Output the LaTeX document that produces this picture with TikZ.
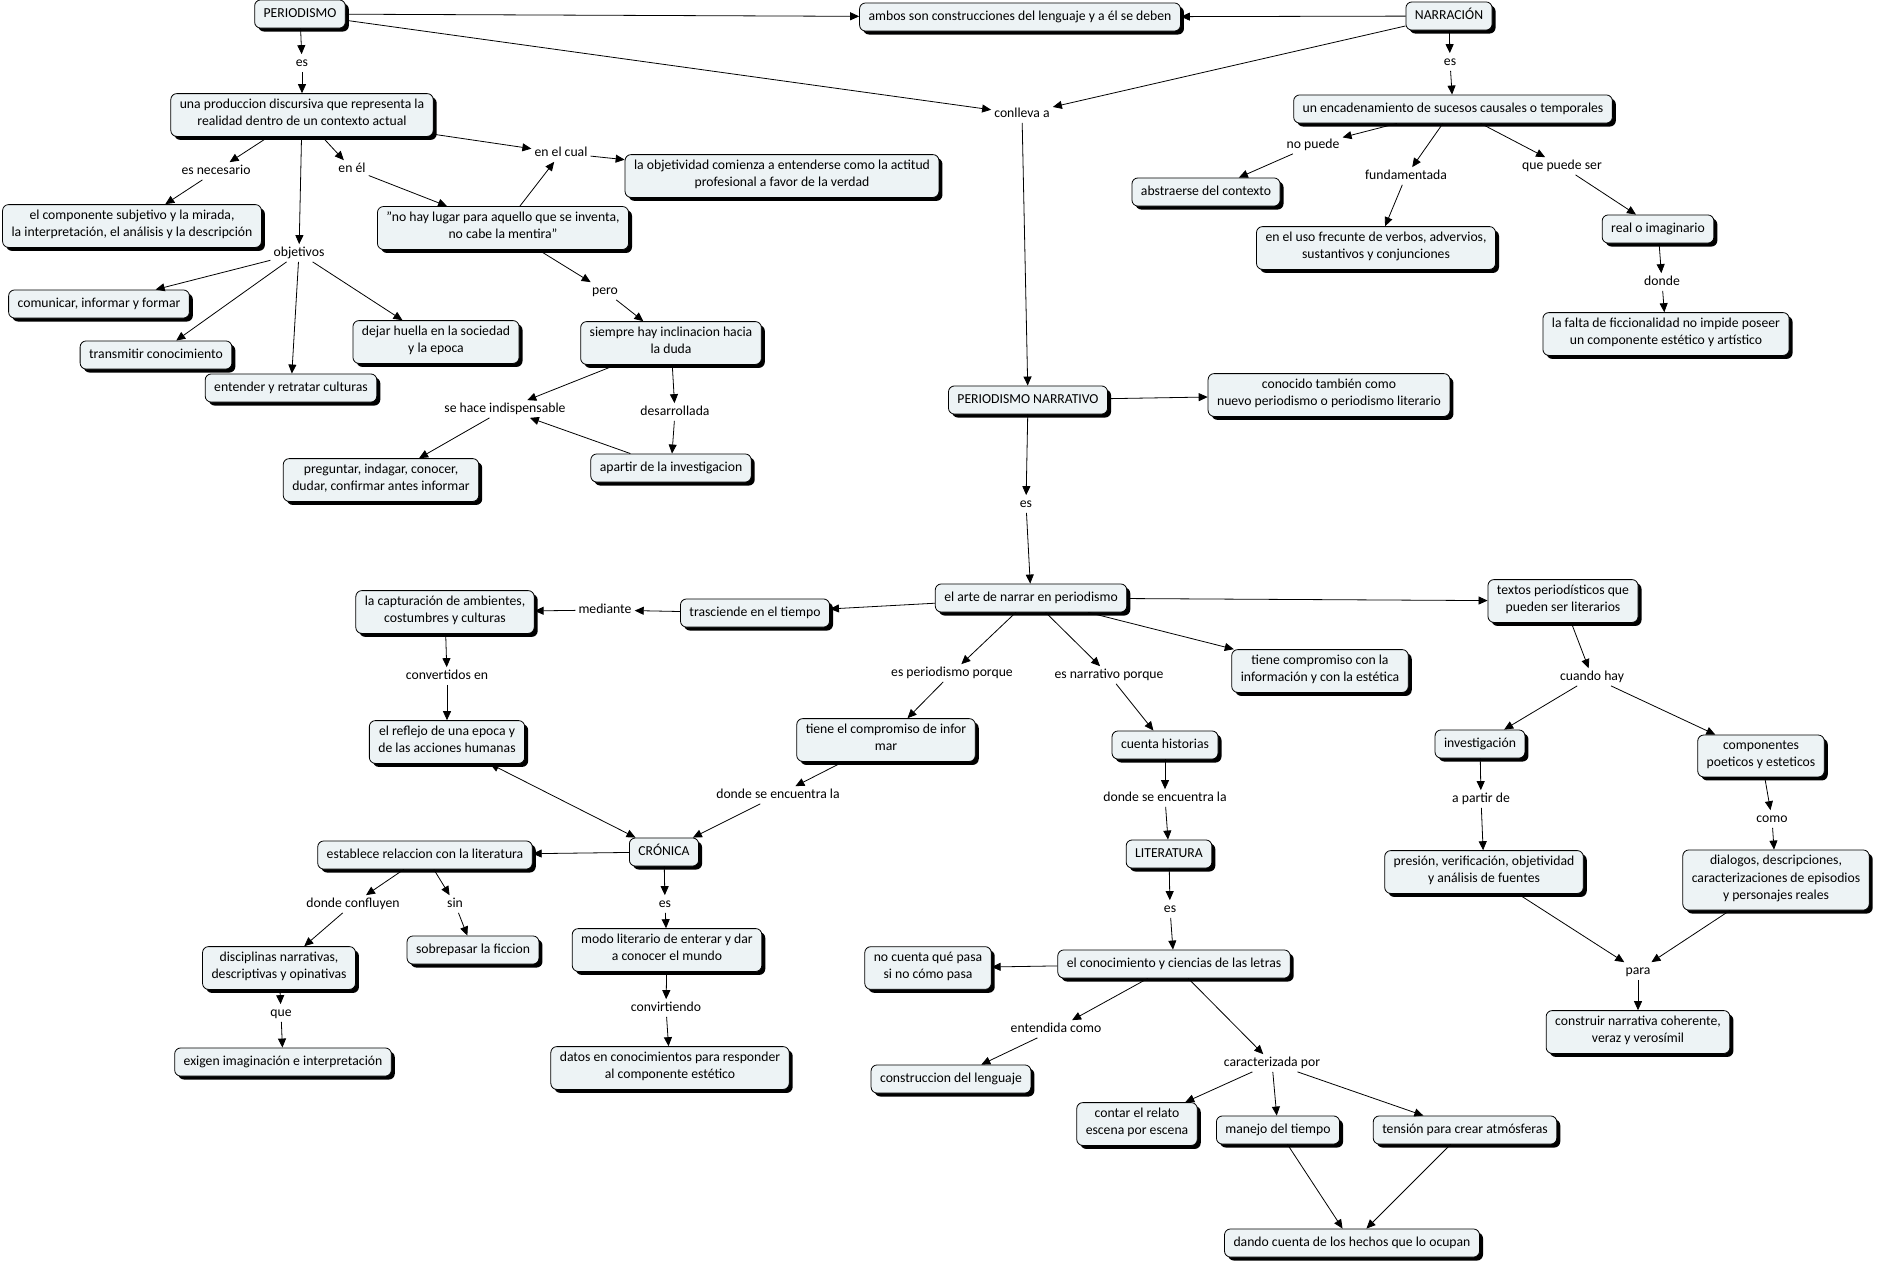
\documentclass[tikz,border=0pt]{standalone}
\usepackage{fontspec}
\setmainfont{Carlito}
\usepackage{xcolor}
\usetikzlibrary{arrows.meta,shadows}
\definecolor{boxfill}{HTML}{EDF3F5}
\definecolor{ink}{HTML}{000000}
\tikzset{
  cbox/.style={draw=ink, fill=boxfill, line width=0.8pt, rounded corners=6pt, align=center,
    inner xsep=9pt, inner ysep=5.4pt, execute at begin node=\strut, execute at end node=\strut,
    drop shadow={shadow xshift=3.5pt, shadow yshift=-3.5pt, fill=ink, opacity=1}},
  lbl/.style={align=center, inner xsep=3pt, inner ysep=0pt,
    execute at begin node=\strut, execute at end node=\strut},
  arr/.style={draw=ink, line width=0.8pt, -{Triangle[length=9pt,width=8pt]}},
  darr/.style={draw=ink, line width=0.8pt, {Triangle[length=9pt,width=8pt]}-{Triangle[length=9pt,width=8pt]}}
}

\begin{document}
\begin{tikzpicture}[x=1pt, y=-1pt, font=\fontsize{13.7}{17.3}\selectfont]
  \useasboundingbox (0,0) rectangle (1879,1264);

  % concepts
  \node[cbox] (per) at (300,14) {PERIODISMO};
  \node[cbox] (amb) at (1020,17) {ambos son construcciones del lenguaje y a él se deben};
  \node[cbox] (nar) at (1449,16) {NARRACIÓN};
  \node[cbox] (prod) at (302,115) {una produccion discursiva que representa la\\realidad dentro de un contexto actual};
  \node[cbox] (comp) at (132,226) {el componente subjetivo y la mirada,\\la interpretación, el análisis y la descripción};
  \node[cbox] (nohay) at (503,228) {"no hay lugar para aquello que se inventa,\\no cabe la mentira"};
  \node[cbox] (obj) at (782,176) {la objetividad comienza a entenderse como la actitud\\profesional a favor de la verdad};
  \node[cbox] (comu) at (99,304) {comunicar, informar y formar};
  \node[cbox] (trans) at (156,355) {transmitir conocimiento};
  \node[cbox] (ent) at (291,388) {entender y retratar culturas};
  \node[cbox] (huella) at (436,342) {dejar huella en la sociedad\\y la epoca};
  \node[cbox] (siem) at (671,343) {siempre hay inclinacion hacia\\la duda};
  \node[cbox] (preg) at (381,480) {preguntar, indagar, conocer,\\dudar, confirmar antes informar};
  \node[cbox] (apar) at (671,468) {apartir de la investigacion};
  \node[cbox] (enc) at (1453,109) {un encadenamiento de sucesos causales o temporales};
  \node[cbox] (abs) at (1206,192) {abstraerse del contexto};
  \node[cbox] (uso) at (1376,248) {en el uso frecunte de verbos, advervios,\\sustantivos y conjunciones};
  \node[cbox] (real) at (1658,229) {real o imaginario};
  \node[cbox] (falta) at (1666,334) {la falta de ficcionalidad no impide poseer\\un componente estético y artístico};
  \node[cbox] (pn) at (1028,400) {PERIODISMO NARRATIVO};
  \node[cbox] (cono) at (1329,395) {conocido también como\\nuevo periodismo o periodismo literario};
  \node[cbox] (arte) at (1031,598) {el arte de narrar en periodismo};
  \node[cbox] (tras) at (755,613) {trasciende en el tiempo};
  \node[cbox] (capt) at (445,612) {la capturación de ambientes,\\costumbres y culturas};
  \node[cbox] (refl) at (447,742) {el reflejo de una epoca y\\de las acciones humanas};
  \node[cbox] (tcomp) at (886,740) {tiene el compromiso de infor\\mar};
  \node[cbox] (tinfo) at (1320,671) {tiene compromiso con la\\información y con la estética};
  \node[cbox] (cuen) at (1165,745) {cuenta historias};
  \node[cbox] (textos) at (1563,601) {textos periodísticos que\\pueden ser literarios};
  \node[cbox] (inv) at (1480,744) {investigación};
  \node[cbox] (cpo) at (1761,756) {componentes\\poeticos y esteticos};
  \node[cbox] (cron) at (664,852) {CRÓNICA};
  \node[cbox] (est) at (425,855) {establece relaccion con la literatura};
  \node[cbox] (disc) at (279,968) {disciplinas narrativas,\\descriptivas y opinativas};
  \node[cbox] (sobre) at (473,950) {sobrepasar la ficcion};
  \node[cbox] (exig) at (283,1062) {exigen imaginación e interpretación};
  \node[cbox] (modo) at (667,950) {modo literario de enterar y dar\\a conocer el mundo};
  \node[cbox] (datos) at (670,1068) {datos en conocimientos para responder\\al componente estético};
  \node[cbox] (lit) at (1169,854) {LITERATURA};
  \node[cbox] (conoc) at (1174,964) {el conocimiento y ciencias de las letras};
  \node[cbox] (nocu) at (928,968) {no cuenta qué pasa\\si no cómo pasa};
  \node[cbox] (cons) at (951,1079) {construccion del lenguaje};
  \node[cbox] (cont) at (1137,1124) {contar el relato\\escena por escena};
  \node[cbox] (man) at (1278,1130) {manejo del tiempo};
  \node[cbox] (tens) at (1465,1130) {tensión para crear atmósferas};
  \node[cbox] (dando) at (1352,1243) {dando cuenta de los hechos que lo ocupan};
  \node[cbox] (pres) at (1484,872) {presión, verificación, objetividad\\y análisis de fuentes};
  \node[cbox] (dial) at (1776,880) {dialogos, descripciones,\\caracterizaciones de episodios\\y personajes reales};
  \node[cbox] (constr) at (1638,1032) {construir narrativa coherente,\\veraz y verosímil};

  % linking phrases
  \node[lbl] (es1) at (302,63) {es};
  \node[lbl] (nec) at (216,171) {es necesario};
  \node[lbl] (enel) at (352,169) {en él};
  \node[lbl] (objs) at (299,253) {objetivos};
  \node[lbl] (cual) at (561,153) {en el cual};
  \node[lbl] (pero) at (605,291) {pero};
  \node[lbl] (indis) at (505,409) {se hace indispensable};
  \node[lbl] (desa) at (675,412) {desarrollada};
  \node[lbl] (conl) at (1022,114) {conlleva a};
  \node[lbl] (es2) at (1450,62) {es};
  \node[lbl] (nop) at (1313,145) {no puede};
  \node[lbl] (fund) at (1406,176) {fundamentada};
  \node[lbl] (qps) at (1562,166) {que puede ser};
  \node[lbl] (donde) at (1662,282) {donde};
  \node[lbl] (es3) at (1026,504) {es};
  \node[lbl] (medi) at (605,610) {mediante};
  \node[lbl] (conv) at (447,676) {convertidos en};
  \node[lbl] (esper) at (952,673) {es periodismo porque};
  \node[lbl] (esnar) at (1109,675) {es narrativo porque};
  \node[lbl] (dse1) at (778,795) {donde se encuentra la};
  \node[lbl] (dse2) at (1165,798) {donde se encuentra la};
  \node[lbl] (cuan) at (1592,677) {cuando hay};
  \node[lbl] (apd) at (1481,799) {a partir de};
  \node[lbl] (como) at (1772,819) {como};
  \node[lbl] (para) at (1638,971) {para};
  \node[lbl] (dconf) at (353,904) {donde confluyen};
  \node[lbl] (sin) at (455,904) {sin};
  \node[lbl] (que) at (281,1013) {que};
  \node[lbl] (es4) at (665,904) {es};
  \node[lbl] (convi) at (666,1008) {convirtiendo};
  \node[lbl] (es5) at (1170,909) {es};
  \node[lbl] (entc) at (1056,1029) {entendida como};
  \node[lbl] (carac) at (1272,1063) {caracterizada por};

  % top
  \draw[arr] (per) -- (amb);
  \draw[arr] (nar) -- (amb);
  \draw[arr] (per) -- (conl);
  \draw[arr] (nar) -- (conl);
  \draw[arr] (conl) -- (pn);

  % periodismo
  \draw[arr] (per) -- (es1);
  \draw[arr] (es1) -- (prod);
  \draw[arr] (prod) -- (nec);
  \draw[arr] (nec) -- (comp);
  \draw[arr] (prod) -- (enel);
  \draw[arr] (enel) -- (nohay);
  \draw[arr] (prod) -- (objs);
  \draw[arr] (objs) -- (comu);
  \draw[arr] (objs) -- (trans);
  \draw[arr] (objs) -- (ent);
  \draw[arr] (objs) -- (huella);
  \draw[arr] (prod) -- (cual);
  \draw[arr] (nohay) -- (cual);
  \draw[arr] (cual) -- (obj);
  \draw[arr] (nohay) -- (pero);
  \draw[arr] (pero) -- (siem);
  \draw[arr] (siem) -- (indis);
  \draw[arr] (indis) -- (preg);
  \draw[arr] (siem) -- (desa);
  \draw[arr] (desa) -- (apar);
  \draw[arr] (apar) -- (indis);

  % narracion
  \draw[arr] (nar) -- (es2);
  \draw[arr] (es2) -- (enc);
  \draw[arr] (enc) -- (nop);
  \draw[arr] (nop) -- (abs);
  \draw[arr] (enc) -- (fund);
  \draw[arr] (fund) -- (uso);
  \draw[arr] (enc) -- (qps);
  \draw[arr] (qps) -- (real);
  \draw[arr] (real) -- (donde);
  \draw[arr] (donde) -- (falta);

  % periodismo narrativo
  \draw[arr] (pn) -- (cono);
  \draw[arr] (pn) -- (es3);
  \draw[arr] (es3) -- (arte);
  \draw[arr] (arte) -- (tras);
  \draw[arr] (tras) -- (medi);
  \draw[arr] (medi) -- (capt);
  \draw[arr] (capt) -- (conv);
  \draw[arr] (conv) -- (refl);
  \draw[darr] (refl) -- (cron);
  \draw[arr] (arte) -- (esper);
  \draw[arr] (esper) -- (tcomp);
  \draw[arr] (tcomp) -- (dse1);
  \draw[arr] (dse1) -- (cron);
  \draw[arr] (arte) -- (esnar);
  \draw[arr] (esnar) -- (cuen);
  \draw[arr] (cuen) -- (dse2);
  \draw[arr] (dse2) -- (lit);
  \draw[arr] (arte) -- (tinfo);
  \draw[arr] (arte) -- (textos);
  \draw[arr] (textos) -- (cuan);
  \draw[arr] (cuan) -- (inv);
  \draw[arr] (cuan) -- (cpo);
  \draw[arr] (inv) -- (apd);
  \draw[arr] (apd) -- (pres);
  \draw[arr] (pres) -- (para);
  \draw[arr] (cpo) -- (como);
  \draw[arr] (como) -- (dial);
  \draw[arr] (dial) -- (para);
  \draw[arr] (para) -- (constr);

  % cronica
  \draw[arr] (cron) -- (est);
  \draw[arr] (est) -- (dconf);
  \draw[arr] (dconf) -- (disc);
  \draw[arr] (disc) -- (que);
  \draw[arr] (que) -- (exig);
  \draw[arr] (est) -- (sin);
  \draw[arr] (sin) -- (sobre);
  \draw[arr] (cron) -- (es4);
  \draw[arr] (es4) -- (modo);
  \draw[arr] (modo) -- (convi);
  \draw[arr] (convi) -- (datos);

  % literatura
  \draw[arr] (lit) -- (es5);
  \draw[arr] (es5) -- (conoc);
  \draw[arr] (conoc) -- (nocu);
  \draw[arr] (conoc) -- (entc);
  \draw[arr] (entc) -- (cons);
  \draw[arr] (conoc) -- (carac);
  \draw[arr] (carac) -- (cont);
  \draw[arr] (carac) -- (man);
  \draw[arr] (carac) -- (tens);
  \draw[arr] (man) -- (dando);
  \draw[arr] (tens) -- (dando);
\end{tikzpicture}
\end{document}
